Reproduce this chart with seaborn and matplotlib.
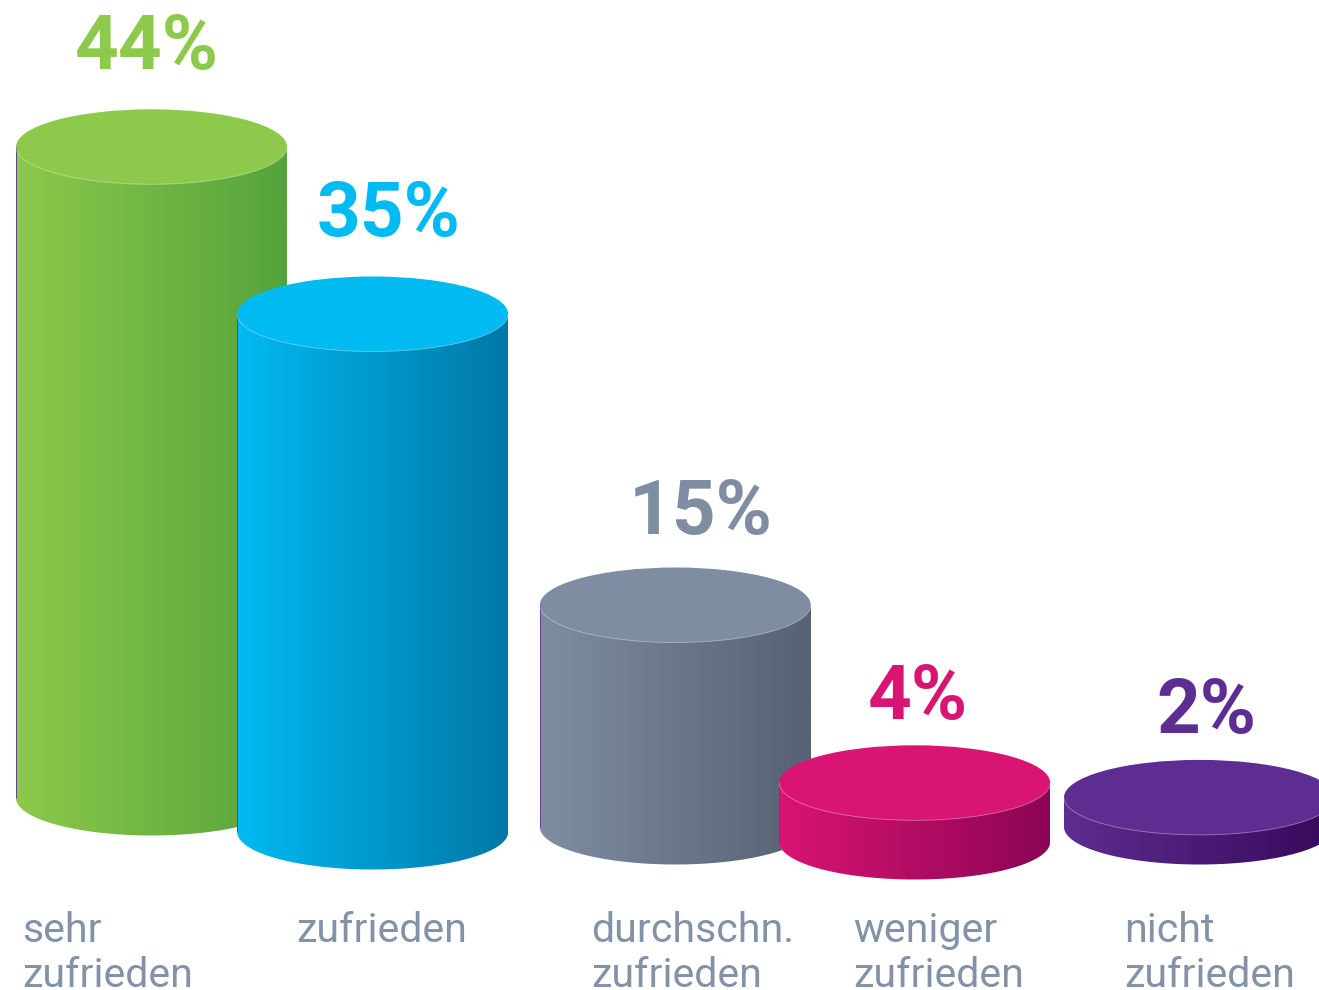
import numpy as np
import pandas as pd
import matplotlib
matplotlib.use("Agg")
import matplotlib.pyplot as plt
from matplotlib.colors import LinearSegmentedColormap
from matplotlib.patches import Ellipse
from matplotlib.path import Path
import seaborn as sns

# --- data ---
categories = ["sehr\nzufrieden", "zufrieden", "durchschn.\nzufrieden", "weniger\nzufrieden", "nicht\nzufrieden"]
shares = [44, 35, 15, 4, 2]
value_labels = ["44%", "35%", "15%", "4%", "2%"]

# --- colours ---
top_colors = ["#8DC94B", "#00BAF2", "#7F8DA3", "#D91473", "#5E2D91"]
dark_colors = ["#55A33C", "#0078A6", "#566173", "#8C0554", "#36095B"]
text_color = "#8292A8"

# --- layout (pixels of the 1319x990 canvas) ---
W, H = 1319, 990
PX_PER_PCT = 14.8
centers = [151.5, 372.7, 675.3, 914.7, 1199.5]
base_px = [798, 832, 827, 842, 827]
bar_w = 271
ell_h = 75
label_x = [147, 389, 701, 918, 1206]
label_base_px = [69, 236, 534, 719, 733]
cat_x = [22.5, 296.5, 591.5, 853.5, 1124.5]
cat_y = 942
line_px = 45
REF = 850


def y_of(px):
    return (REF - px) / PX_PER_PCT


sns.set_theme(style="white")
plt.rcParams["font.family"] = ["Roboto", "DejaVu Sans"]

fig = plt.figure(figsize=(W / 100, H / 100), dpi=100, facecolor="white")
ax = fig.add_axes([0, 0, 1, 1])

df = pd.DataFrame({"pos": centers, "share": shares, "cat": categories})
sns.barplot(
    data=df, x="pos", y="share", hue="cat", hue_order=categories,
    palette=dict(zip(categories, dark_colors)), native_scale=True,
    width=bar_w / (centers[1] - centers[0]), dodge=False, legend=False,
    linewidth=0, ax=ax,
)

ell_dh = ell_h / PX_PER_PCT
for i, bar in enumerate(ax.patches):
    z = 2 + i * 4
    base = y_of(base_px[i])
    bar.set_y(base)
    bar.set_zorder(z)
    x0, w = bar.get_x(), bar.get_width()
    top = base + bar.get_height()
    cx = x0 + w / 2
    # lower half of an ellipse, running from left to right
    t = np.linspace(np.pi, 2 * np.pi, 120)
    arc_x = cx + w / 2 * np.cos(t)
    arc_y = ell_dh / 2 * np.sin(t)
    # body = rectangle + lower half of the bottom ellipse
    verts = np.vstack([[x0, top], np.c_[arc_x, base + arc_y], [x0 + w, top], [x0, top]])
    body = Path(verts)
    cmap = LinearSegmentedColormap.from_list(f"c{i}", [top_colors[i], dark_colors[i]])
    im = ax.imshow(np.linspace(0, 1, 256)[None, :], cmap=cmap, aspect="auto",
                   extent=(x0, x0 + w, base - ell_dh, top), zorder=z + 1)
    im.set_clip_path(body, transform=ax.transData)
    # top face with a faint highlight along its front rim
    ax.add_patch(Ellipse((cx, top), w, ell_dh, facecolor=top_colors[i],
                         edgecolor="none", zorder=z + 2))
    ax.plot(arc_x, top + arc_y, color=(1, 1, 1, 0.4), lw=0.6, zorder=z + 3)
    if i < 3:
        ax.plot([x0, x0], [base, top], color="#5E2D91" if i != 1 else "#1C5C78",
                lw=0.6, zorder=z + 2, solid_capstyle="butt")
    ax.text(label_x[i], y_of(label_base_px[i]), value_labels[i], color=top_colors[i],
            fontweight="bold", fontsize=55,
            ha="center", va="baseline", zorder=40)
    for j, line in enumerate(categories[i].split("\n")):
        ax.text(cat_x[i], y_of(cat_y + j * line_px), line, color=text_color,
                fontsize=29.6, ha="left", va="baseline", zorder=40)

ax.set_xlim(0, W)
ax.set_ylim(y_of(H), y_of(0))
ax.set_axis_off()
fig.savefig("out.png", dpi=100, facecolor="white")
